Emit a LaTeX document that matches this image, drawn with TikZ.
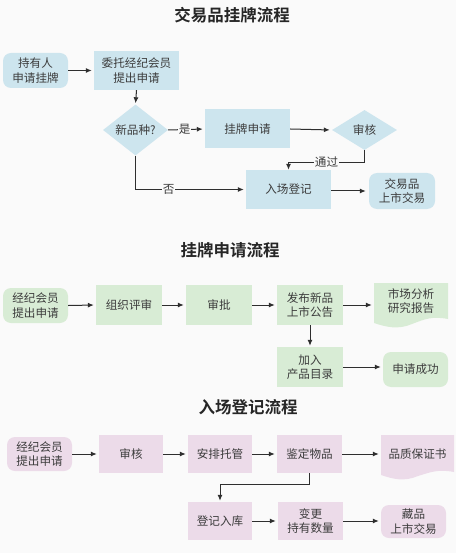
\documentclass[tikz,border=0pt]{standalone}
\usepackage{fontspec}
\setmainfont{Noto Sans CJK SC}
\newfontfamily\cjkbold{Noto Sans CJK SC Bold}
\usetikzlibrary{shapes.geometric,arrows.meta}
\definecolor{cblue}{HTML}{CDE5EE}
\definecolor{cgreen}{HTML}{D8ECD5}
\definecolor{cpink}{HTML}{ECDBE9}
\definecolor{ctxt}{HTML}{3C3C3C}
\definecolor{cline}{HTML}{2E2E2E}
\definecolor{cbg}{HTML}{FAFAFA}
\tikzset{
  base/.style={text=ctxt,font=\fontsize{11.6}{14.5}\selectfont,align=center,inner sep=0pt},
  box/.style={base,rectangle},
  rbox/.style={base,rectangle,rounded corners=8pt},
  dia/.style={base,diamond,minimum width=65pt,minimum height=40pt},
  ttl/.style={font=\cjkbold\fontsize{16.5}{18}\selectfont,text=black!85},
  arr/.style={draw=cline,line width=1pt,-{Latex[length=6pt,width=5pt]}},
  lbl/.style={fill=cbg,text=ctxt,font=\fontsize{11.6}{12}\selectfont,inner sep=1pt}
}
\begin{document}
\begin{tikzpicture}[x=1pt,y=-1pt]
\useasboundingbox (0,0) rectangle (467,553);
\fill[white] (0,0) rectangle (467,553);
\fill[cbg] (0,0) rectangle (456,553);
% ---------- Section 1 ----------
\node[ttl] (t1) at (232,15) {交易品挂牌流程};
\node[rbox,fill=cblue,minimum width=65pt,minimum height=35pt] (n1) at (35.5,70.5) {持有人\\申请挂牌};
\node[box,fill=cblue,minimum width=85pt,minimum height=39pt] (n2) at (136.5,70.5) {委托经纪会员\\提出申请};
\node[dia,fill=cblue] (d1) at (135.5,130) {新品种?};
\node[box,fill=cblue,minimum width=85pt,minimum height=39pt] (n3) at (247.5,129) {挂牌申请};
\node[dia,fill=cblue] (d2) at (364.5,130) {审核};
\node[box,fill=cblue,minimum width=85pt,minimum height=39pt] (n4) at (288.5,189.5) {入场登记};
\node[rbox,fill=cblue,minimum width=66pt,minimum height=36pt] (n5) at (402,191) {交易品\\上市交易};
\draw[arr,shorten >=2pt] (n1.east) -- (n2.west);
\draw[arr,shorten >=1pt] (n2.south) -- (d1.north);
\draw[arr,shorten >=2pt] (d1.east) -- node[lbl,pos=0.45] (ls) {是} (n3.west);
\draw[arr,shorten >=2pt] (n3.east) -- (d2.west);
\draw[arr] (d2.south) -- ++(0,12) coordinate (c1) -| node[lbl,pos=0.25] (lt) {通过} (n4.north);
\draw[arr,shorten >=2pt] (d1.south) |- node[lbl,pos=0.65] (lf) {否} (n4.west);
\draw[arr,shorten >=3pt] (n4.east) ++(0,1.5) coordinate (c2) -- (c2 -| n5.west);
% ---------- Section 2 ----------
\node[ttl] (t2) at (230,250) {挂牌申请流程};
\fill[cgreen] (374,283) -- (448,283) -- (448,319) .. controls (432,316) and (425,319) .. (412,324) .. controls (398,330) and (386,327) .. (374,323) -- cycle;
\node[rbox,fill=cgreen,minimum width=65pt,minimum height=35pt] (m1) at (35.5,305.5) {经纪会员\\提出申请};
\node[box,fill=cgreen,minimum width=66pt,minimum height=40pt] (m2) at (129,305) {组织评审};
\node[box,fill=cgreen,minimum width=66pt,minimum height=40pt] (m3) at (219,305) {审批};
\node[box,fill=cgreen,minimum width=66pt,minimum height=40pt] (m4) at (310,305) {发布新品\\上市公告};
\node[box,minimum width=74pt,minimum height=36pt] (m5) at (411,301) {市场分析\\研究报告};
\node[box,fill=cgreen,minimum width=66pt,minimum height=40pt] (m6) at (310,367) {加入\\产品目录};
\node[rbox,fill=cgreen,minimum width=65pt,minimum height=35pt] (m7) at (415.5,369.5) {申请成功};
\draw[arr,shorten >=2pt] (m1.east) -- (m2.west);
\draw[arr,shorten >=2pt] (m2.east) -- (m3.west);
\draw[arr,shorten >=2pt] (m3.east) -- (m4.west);
\draw[arr,shorten >=2pt] (m4.east) -- (m4.east -| m5.west);
\draw[arr,shorten >=1pt] (m4.south) -- (m6.north);
\draw[arr,shorten >=2pt] (m6.east) -- (m6.east -| m7.west);
% ---------- Section 3 ----------
\node[ttl] (t3) at (248,407) {入场登记流程};
\fill[cpink] (381,435) -- (454,435) -- (454,472) .. controls (438,469) and (431,472) .. (418,476) .. controls (404,482) and (393,479) .. (381,475) -- cycle;
\node[rbox,fill=cpink,minimum width=65pt,minimum height=34pt] (k1) at (39.5,454) {经纪会员\\提出申请};
\node[box,fill=cpink,minimum width=64pt,minimum height=38pt] (k2) at (131,454) {审核};
\node[box,fill=cpink,minimum width=64pt,minimum height=38pt] (k3) at (220,454) {安排托管};
\node[box,fill=cpink,minimum width=65pt,minimum height=38pt] (k4) at (309.5,454) {鉴定物品};
\node[box,minimum width=73pt,minimum height=38pt] (k5) at (417.5,454) {品质保证书};
\node[box,fill=cpink,minimum width=64pt,minimum height=38pt] (k6) at (220,521) {登记入库};
\node[box,fill=cpink,minimum width=65pt,minimum height=38pt] (k7) at (310.5,521) {变更\\持有数量};
\node[rbox,fill=cpink,minimum width=65pt,minimum height=33pt] (k8) at (413.5,521.5) {藏品\\上市交易};
\draw[arr,shorten >=2pt] (k1.east) -- (k2.west);
\draw[arr,shorten >=2pt] (k2.east) -- (k3.west);
\draw[arr,shorten >=2pt] (k3.east) -- (k4.west);
\draw[arr,shorten >=2pt] (k4.east) -- (k5.west);
\draw[arr,shorten >=1pt] (k4.south) -- ++(0,11) -| (k6.north);
\draw[arr,shorten >=2pt] (k6.east) -- (k7.west);
\draw[arr,shorten >=2pt] (k7.east) -- (k7.east -| k8.west);
\end{tikzpicture}
\end{document}
